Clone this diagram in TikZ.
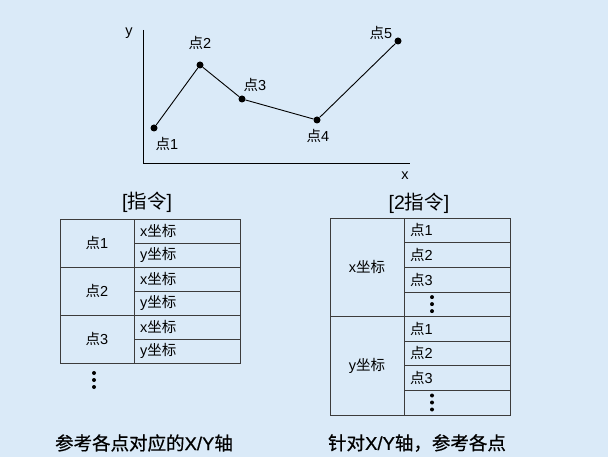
\documentclass[tikz,border=0pt]{standalone}
\usepackage{fontspec}
\setmainfont{Liberation Sans}
\newfontfamily\cjk{Noto Sans CJK SC}
\newfontfamily\capfont{Liberation Sans}[FakeBold=0.6]
\newfontfamily\capcjk{Noto Sans CJK SC}[FakeBold=0.6]
\usetikzlibrary{positioning,calc}

\newcommand{\zh}[1]{{\cjk #1}}
\newcommand{\zhcap}[1]{{\capcjk #1}}
\definecolor{panelblue}{RGB}{218,234,248}
\definecolor{gridline}{RGB}{60,60,60}

\begin{document}
\begin{tikzpicture}[
  x=1pt, y=-1pt,
  font=\fontsize{14.5}{16}\selectfont,
  pt/.style={circle, fill, inner sep=0pt, minimum size=7pt},
  lbl/.style={inner sep=0pt},
  title/.style={font=\fontsize{19.5}{21}\selectfont, inner sep=0pt},
  caption/.style={font=\fontsize{18.5}{20}\selectfont\capfont, inner sep=0pt},
  keycell/.style={draw=gridline, minimum width=74pt, inner sep=0pt, outer sep=0pt},
  subcell/.style={draw=gridline, text width=94pt, inner xsep=6pt, inner ysep=0pt,
    outer sep=0pt, align=left, minimum height=24pt},
  line/.style={line width=0.9pt}
]
\fill[panelblue] (0,0) rectangle (608,457);

% plot
\coordinate (origin) at (143,163);
\coordinate (ytop) at (143,30);
\coordinate (xend) at (410,163);
\draw[line] (ytop) -- (origin) -- (xend);
\node[lbl] (ylab) at (129,33) {y};
\node[lbl] (xlab) at (405,176) {x};

\node[pt] (p1) at (154,128) {};
\node[pt] (p2) at (200,65) {};
\node[pt] (p3) at (242,99) {};
\node[pt] (p4) at (317,120) {};
\node[pt] (p5) at (398,41) {};
\draw[line] (p1) -- (p2) -- (p3) -- (p4) -- (p5);
\node[lbl] (l1) at (167,144) {\zh{点}1};
\node[lbl] (l2) at (200,43) {\zh{点}2};
\node[lbl] (l3) at (255,85) {\zh{点}3};
\node[lbl] (l4) at (318,136) {\zh{点}4};
\node[lbl] (l5) at (381,33) {\zh{点}5};

% left table: by point
\node[title] (tleft) at (147,202) {[\zh{指令}]};
\node[keycell, minimum height=48pt, anchor=north west] (k1) at (60,219) {\zh{点}1};
\node[keycell, minimum height=48pt, below=0pt of k1] (k2) {\zh{点}2};
\node[keycell, minimum height=48pt, below=0pt of k2] (k3) {\zh{点}3};
\node[subcell, anchor=north west] (s1x) at (k1.north east) {x\zh{坐标}};
\node[subcell, below=0pt of s1x] (s1y) {y\zh{坐标}};
\node[subcell, below=0pt of s1y] (s2x) {x\zh{坐标}};
\node[subcell, below=0pt of s2x] (s2y) {y\zh{坐标}};
\node[subcell, below=0pt of s2y] (s3x) {x\zh{坐标}};
\node[subcell, below=0pt of s3x] (s3y) {y\zh{坐标}};
\coordinate (more) at (94,380);
\foreach \d in {-7,0,7}
  \fill (more) ++(0,\d) circle (2pt);

% right table: by axis
\node[title] (tright) at (419,203) {[2\zh{指令}]};
\node[keycell, minimum height=98.5pt, anchor=north west] (ax) at (330,218) {x\zh{坐标}};
\node[keycell, minimum height=98.5pt, below=0pt of ax] (ay) {y\zh{坐标}};
\node[subcell, minimum height=24.6pt, anchor=north west] (x1) at (ax.north east) {\zh{点}1};
\node[subcell, minimum height=24.6pt, below=0pt of x1] (x2) {\zh{点}2};
\node[subcell, minimum height=24.6pt, below=0pt of x2] (x3) {\zh{点}3};
\node[subcell, minimum height=24.6pt, below=0pt of x3] (x4) {};
\node[subcell, minimum height=24.6pt, below=0pt of x4] (y1) {\zh{点}1};
\node[subcell, minimum height=24.6pt, below=0pt of y1] (y2) {\zh{点}2};
\node[subcell, minimum height=24.6pt, below=0pt of y2] (y3) {\zh{点}3};
\node[subcell, minimum height=24.6pt, below=0pt of y3] (y4) {};
\foreach \c in {x4,y4}
  \foreach \d in {-7,0,7}
    \fill ($(\c.west)+(28,\d)$) circle (2pt);

% captions
\node[caption] (capl) at (144,443) {\zhcap{参考各点对应的}X/Y\zhcap{轴}};
\node[caption] (capr) at (417,443) {\zhcap{针对}X/Y\zhcap{轴，参考各点}};
\end{tikzpicture}
\end{document}
